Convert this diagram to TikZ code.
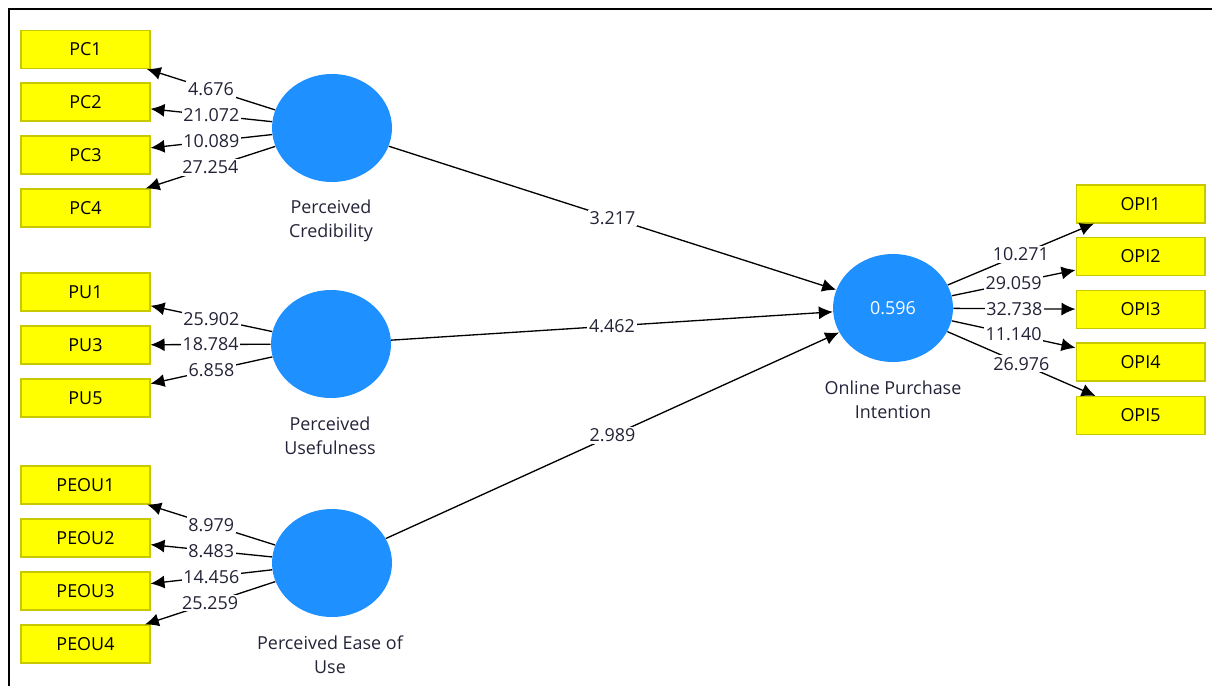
\documentclass[tikz,border=0pt]{standalone}
\usepackage{fontspec}
\setmainfont{Open Sans}
\usetikzlibrary{shapes.geometric,arrows.meta}

\definecolor{lvblue}{RGB}{30,144,255}
\definecolor{indyellow}{RGB}{255,255,0}
\definecolor{indborder}{RGB}{200,200,0}
\definecolor{txt}{RGB}{35,35,55}

\tikzset{
  ind/.style={draw=indborder, fill=indyellow, line width=0.6pt,
    minimum width=2.58cm, minimum height=0.76cm, inner sep=0pt, text=black},
  lv/.style={ellipse, fill=lvblue, minimum width=2.4cm, minimum height=2.16cm,
    inner sep=0pt, text=white},
  lvname/.style={align=center, text=txt},
  val/.style={fill=white, inner sep=1pt, text=txt},
  load/.style={-{Latex[length=2.8mm,width=2.6mm]}, line width=0.75pt},
}

\begin{document}
\begin{tikzpicture}[x=0.02cm, y=-0.02cm,
  font=\fontsize{10.2}{13.6}\selectfont]

\useasboundingbox (0,0) rectangle (1212,686);
\draw[line width=1.1pt] (9,686) -- (9,9) -- (1212,9);

% latent variables
\node[lv] (PC) at (332,128) {};
\node[lv] (PU) at (331,344) {};
\node[lv] (PEOU) at (332,563) {};
\node[lv] (OPI) at (893,308) {0.596};

\node[lvname] (PCname) at (331,221) {Perceived\\Credibility};
\node[lvname] (PUname) at (330,436) {Perceived\\Usefulness};
\node[lvname] (PEOUname) at (330,655) {Perceived Ease of\\Use};
\node[lvname] (OPIname) at (893,400) {Online Purchase\\Intention};

% Perceived Credibility
\foreach \i/\y/\t in {1/49.5/4.676, 2/102/21.072, 3/155/10.089, 4/208/27.254}
{
  \node[ind] (PC\i) at (85.5,\y) {PC\i};
  \draw[load] (PC) -- node[val] {\t} (PC\i);
}

% Perceived Usefulness
\foreach \i/\y/\t in {1/292/25.902, 3/345/18.784, 5/398/6.858}
{
  \node[ind] (PU\i) at (85.5,\y) {PU\i};
  \draw[load] (PU) -- node[val] {\t} (PU\i);
}

% Perceived Ease of Use
\foreach \i/\y/\t in {1/485/8.979, 2/538/8.483, 3/591/14.456, 4/644/25.259}
{
  \node[ind] (PEOU\i) at (85.5,\y) {PEOU\i};
  \draw[load] (PEOU) -- node[val] {\t} (PEOU\i);
}

% Online Purchase Intention
\foreach \i/\y/\t in {1/204/10.271, 2/256.5/29.059, 3/309.5/32.738, 4/362/11.140, 5/415.5/26.976}
{
  \node[ind] (OPI\i) at (1140.5,\y) {OPI\i};
  \draw[load] (OPI) -- node[val] {\t} (OPI\i);
}

% structural paths
\draw[load] (PC) -- node[val] {3.217} (OPI);
\draw[load] (PU) -- node[val] {4.462} (OPI);
\draw[load] (PEOU) -- node[val] {2.989} (OPI);

\end{tikzpicture}
\end{document}
